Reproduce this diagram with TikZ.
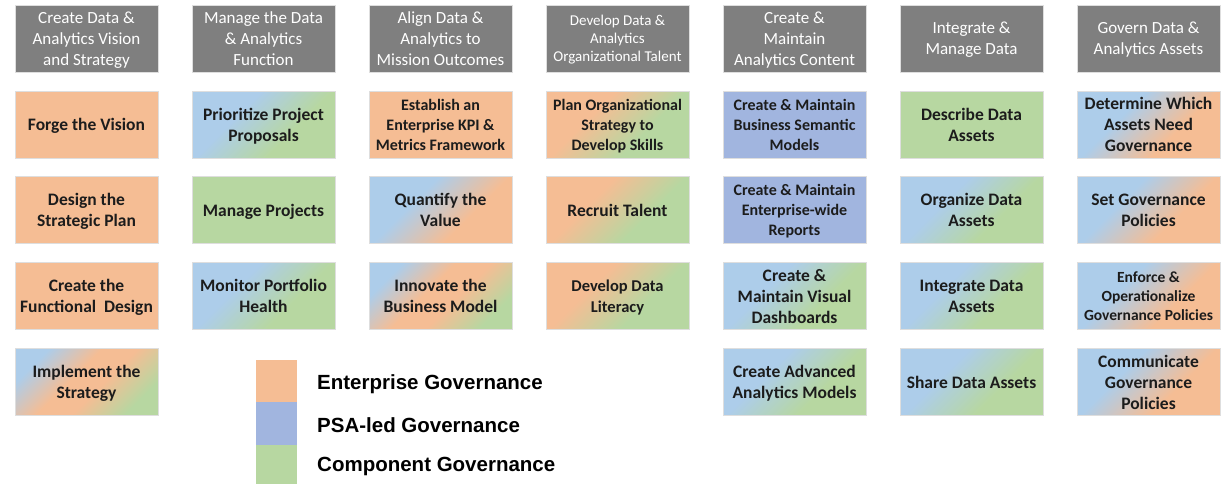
\documentclass[tikz,border=0pt]{standalone}
\usepackage{fontspec}
\setmainfont{Carlito}
\newfontfamily\legfont{Liberation Sans}
\definecolor{orc}{HTML}{F5BD94}
\definecolor{lbc}{HTML}{ADCDEA}
\definecolor{grc}{HTML}{B7D7A1}
\definecolor{psac}{HTML}{A1B5DF}
\definecolor{hdc}{HTML}{7F7F7F}
\definecolor{edc}{HTML}{DEDEDE}
\definecolor{txc}{HTML}{1C1C1C}
\pgfdeclarehorizontalshading{shbg}{100bp}{color(0bp)=(lbc); color(38bp)=(lbc); color(62bp)=(grc); color(100bp)=(grc)}
\pgfdeclarehorizontalshading{shbo}{100bp}{color(0bp)=(lbc); color(38bp)=(lbc); color(62bp)=(orc); color(100bp)=(orc)}
\pgfdeclarehorizontalshading{shog}{100bp}{color(0bp)=(orc); color(38bp)=(orc); color(62bp)=(grc); color(100bp)=(grc)}
\pgfdeclarehorizontalshading{shbog}{100bp}{color(0bp)=(lbc); color(26bp)=(lbc); color(44bp)=(orc); color(56bp)=(orc); color(74bp)=(grc); color(100bp)=(grc)}
\begin{document}
\begin{tikzpicture}[x=1pt,y=-1pt,
  cell/.style={minimum width=143pt, minimum height=67pt, inner sep=0pt, align=center,
    text depth=0pt, draw=edc, line width=0.8pt, text=txc, font=\bfseries\fontsize{17.5}{21}\selectfont},
  small/.style={font=\bfseries\fontsize{16}{20}\selectfont},
  mid/.style={font=\bfseries\fontsize{16.5}{20.5}\selectfont},
  tiny/.style={font=\bfseries\fontsize{15.5}{19}\selectfont},
  hdr/.style={cell, fill=hdc, text=white, font=\fontsize{17}{21}\selectfont},
  hdrsmall/.style={font=\fontsize{15}{18}\selectfont},
  fo/.style={fill=orc},
  fg/.style={fill=grc},
  fp/.style={fill=psac},
  sbg/.style={shading=shbg, shading angle=-45},
  sbo/.style={shading=shbo, shading angle=-45},
  sog/.style={shading=shog, shading angle=-45},
  sbog/.style={shading=shbog, shading angle=-45},
  legbar/.style={minimum width=41pt, inner sep=0pt, outer sep=0pt},
  legtxt/.style={anchor=west, inner sep=0pt, text=black, font=\legfont\bfseries\fontsize{20.5}{23}\selectfont}
]
\useasboundingbox (0,0) rectangle (1226,485);
\path[fill=white] (0,0) rectangle (1226,485);

% headers
\node[hdr] (h1) at (86.5,38.5) {Create Data \&\\Analytics Vision\\and Strategy};
\node[hdr] (h2) at (263.5,38.5) {Manage the Data\\\& Analytics\\Function};
\node[hdr] (h3) at (440.5,38.5) {Align Data \&\\Analytics to\\Mission Outcomes};
\node[hdr, hdrsmall] (h4) at (617.5,38.5) {Develop Data \&\\Analytics\\Organizational Talent};
\node[hdr] (h5) at (794.5,38.5) {Create \&\\Maintain\\Analytics Content};
\node[hdr] (h6) at (971.5,38.5) {Integrate \&\\Manage Data};
\node[hdr] (h7) at (1148.5,38.5) {Govern Data \&\\Analytics Assets};

% column 1
\node[cell, fo] (c11) at (86.5,124.5) {Forge the Vision};
\node[cell, fo] (c12) at (86.5,210.3) {Design the\\Strategic Plan};
\node[cell, fo] (c13) at (86.5,296.1) {Create the\\Functional\ \ Design};
\node[cell, sbog] (c14) at (86.5,381.9) {Implement the\\Strategy};

% column 2
\node[cell, sbg] (c21) at (263.5,124.5) {Prioritize Project\\Proposals};
\node[cell, fg] (c22) at (263.5,210.3) {Manage Projects};
\node[cell, sbg] (c23) at (263.5,296.1) {Monitor Portfolio\\Health};

% column 3
\node[cell, fo, small] (c31) at (440.5,124.5) {Establish an\\Enterprise KPI \&\\Metrics Framework};
\node[cell, sbo] (c32) at (440.5,210.3) {Quantify the\\Value};
\node[cell, sbog] (c33) at (440.5,296.1) {Innovate the\\Business Model};

% column 4
\node[cell, sog, small] (c41) at (617.5,124.5) {Plan Organizational\\Strategy to\\Develop Skills};
\node[cell, sog] (c42) at (617.5,210.3) {Recruit Talent};
\node[cell, sog, mid] (c43) at (617.5,296.1) {Develop Data\\Literacy};

% column 5
\node[cell, fp, small] (c51) at (794.5,124.5) {Create \& Maintain\\Business Semantic\\Models};
\node[cell, fp, small] (c52) at (794.5,210.3) {Create \& Maintain\\Enterprise-wide\\Reports};
\node[cell, sbg] (c53) at (794.5,296.1) {Create \&\\Maintain Visual\\Dashboards};
\node[cell, sbg] (c54) at (794.5,381.9) {Create Advanced\\Analytics Models};

% column 6
\node[cell, fg] (c61) at (971.5,124.5) {Describe Data\\Assets};
\node[cell, sbg] (c62) at (971.5,210.3) {Organize Data\\Assets};
\node[cell, sbg] (c63) at (971.5,296.1) {Integrate Data\\Assets};
\node[cell, sbg] (c64) at (971.5,381.9) {Share Data Assets};

% column 7
\node[cell, sbo] (c71) at (1148.5,124.5) {Determine Which\\Assets Need\\Governance};
\node[cell, sbo] (c72) at (1148.5,210.3) {Set Governance\\Policies};
\node[cell, sbo, tiny] (c73) at (1148.5,296.1) {Enforce \&\\Operationalize\\Governance Policies};
\node[cell, sbo] (c74) at (1148.5,381.9) {Communicate\\Governance\\Policies};

% legend
\node[legbar, fill=orc, minimum height=42pt] (l1) at (276.5,381) {};
\node[legbar, fill=psac, minimum height=43pt] (l2) at (276.5,423.5) {};
\node[legbar, fill=grc, minimum height=39pt] (l3) at (276.5,464.5) {};
\node[legtxt] (t1) at (317,384) {Enterprise Governance};
\node[legtxt] (t2) at (317,425) {PSA-led Governance};
\node[legtxt] (t3) at (317,466) {Component Governance};
\end{tikzpicture}
\end{document}
